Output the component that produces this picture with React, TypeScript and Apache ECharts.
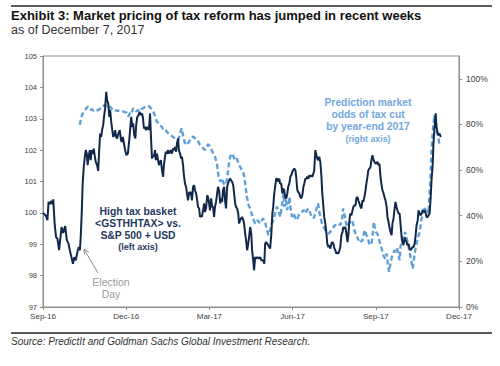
import React, { useEffect, useRef } from "react";
import * as echarts from "echarts";

// x positions are months since the Sep-16 tick
const X_LABELS = ["Sep-16", "Dec-16", "Mar-17", "Jun-17", "Sep-17", "Dec-17"];
const LEFT_TICKS = [97, 98, 99, 100, 101, 102, 103, 104, 105];
const RIGHT_TICKS = [0, 20, 40, 60, 80, 100];

// High tax basket <GSTHHTAX> vs. S&P 500 + USD (left axis)
const BASKET: [number, number][] = [
  [0,100.00],[0.10,99.92],[0.16,99.77],[0.20,100.35],[0.25,100.28],[0.30,100.38],[0.34,100.28],[0.37,100.43],[0.42,99.66],[0.47,99.23],[0.52,99.18],[0.58,98.81],[0.63,99.23],[0.67,99.55],[0.73,99.36],[0.80,99.58],[0.86,99.13],[0.92,99.02],[0.98,98.75],[1.04,98.54],[1.08,98.38],[1.13,98.59],[1.18,98.49],[1.24,98.75],[1.29,98.91],[1.33,98.81],[1.36,99.23],[1.40,100.08],[1.43,100.93],[1.47,101.47],[1.51,101.79],[1.54,102.00],[1.58,101.89],[1.61,101.52],[1.65,101.84],[1.69,102.00],[1.72,101.68],[1.76,102.00],[1.80,101.89],[1.83,102.05],[1.87,101.79],[1.90,101.63],[1.95,101.52],[1.99,101.34],[2.02,101.89],[2.06,102.53],[2.10,102.42],[2.13,102.64],[2.17,102.80],[2.20,103.06],[2.24,103.33],[2.28,103.86],[2.31,103.59],[2.35,103.49],[2.39,103.06],[2.42,103.28],[2.46,102.90],[2.49,102.69],[2.53,102.42],[2.57,102.48],[2.60,102.64],[2.64,102.42],[2.67,102.37],[2.72,102.53],[2.77,102.64],[2.81,102.32],[2.84,102.26],[2.88,102.42],[2.92,102.21],[2.96,102.00],[3.01,101.84],[3.06,101.89],[3.11,102.32],[3.14,102.64],[3.18,103.06],[3.22,102.74],[3.25,102.85],[3.29,102.48],[3.33,102.37],[3.36,102.80],[3.40,103.06],[3.45,103.12],[3.48,103.22],[3.52,103.12],[3.57,103.17],[3.60,103.06],[3.64,102.69],[3.67,102.74],[3.71,102.64],[3.75,102.74],[3.78,102.69],[3.82,102.64],[3.86,103.17],[3.89,102.48],[3.93,101.73],[3.96,101.84],[4.00,101.79],[4.04,102.00],[4.07,101.68],[4.11,101.89],[4.14,101.73],[4.18,101.52],[4.22,101.63],[4.25,101.68],[4.29,101.36],[4.33,101.15],[4.36,101.52],[4.40,101.79],[4.43,101.95],[4.47,101.89],[4.51,102.00],[4.54,101.89],[4.58,101.95],[4.61,102.00],[4.65,101.89],[4.69,102.05],[4.72,102.00],[4.76,102.10],[4.80,101.95],[4.83,102.21],[4.87,102.37],[4.90,102.00],[4.94,101.89],[4.98,101.73],[5.01,101.79],[5.05,101.52],[5.08,101.20],[5.12,100.93],[5.16,100.83],[5.19,100.62],[5.23,100.40],[5.27,100.67],[5.30,100.56],[5.34,100.67],[5.37,100.40],[5.41,100.83],[5.45,100.88],[5.48,100.72],[5.52,100.62],[5.55,100.46],[5.59,100.19],[5.63,100.14],[5.66,99.87],[5.70,99.92],[5.73,99.87],[5.77,100.08],[5.81,100.30],[5.84,100.03],[5.88,100.14],[5.92,100.56],[5.95,100.51],[5.99,100.30],[6.02,100.08],[6.06,100.46],[6.10,100.19],[6.13,100.19],[6.17,99.87],[6.20,100.19],[6.24,100.35],[6.28,100.62],[6.31,100.83],[6.35,100.72],[6.39,100.30],[6.42,100.46],[6.46,100.35],[6.49,100.72],[6.53,100.83],[6.57,100.35],[6.60,100.14],[6.64,100.83],[6.67,100.93],[6.71,101.04],[6.75,101.09],[6.78,101.04],[6.82,100.99],[6.86,100.88],[6.89,100.62],[6.93,100.30],[6.96,100.19],[7.00,100.14],[7.04,99.98],[7.07,99.66],[7.11,99.77],[7.14,99.82],[7.18,99.87],[7.22,99.77],[7.25,99.66],[7.29,99.34],[7.33,99.07],[7.36,98.81],[7.40,99.02],[7.43,99.23],[7.47,99.55],[7.51,99.34],[7.54,98.81],[7.58,98.49],[7.61,98.17],[7.65,98.59],[7.69,98.54],[7.73,98.59],[7.78,98.54],[7.83,98.59],[7.88,98.49],[7.93,98.49],[7.98,98.38],[8.01,99.02],[8.05,99.07],[8.08,99.02],[8.12,98.97],[8.16,98.91],[8.19,98.86],[8.23,99.29],[8.27,99.98],[8.30,100.19],[8.34,100.62],[8.37,100.83],[8.41,101.09],[8.45,101.09],[8.48,100.99],[8.52,101.09],[8.55,100.93],[8.59,100.93],[8.63,100.62],[8.66,100.78],[8.70,100.72],[8.73,100.51],[8.77,100.46],[8.81,100.62],[8.84,100.83],[8.88,100.93],[8.92,101.15],[8.95,101.20],[8.99,101.31],[9.02,101.36],[9.06,101.41],[9.10,101.36],[9.13,101.15],[9.17,100.72],[9.20,100.67],[9.24,100.62],[9.28,100.51],[9.31,100.46],[9.35,100.56],[9.39,100.83],[9.42,100.93],[9.46,101.09],[9.49,101.09],[9.53,101.15],[9.57,101.09],[9.60,101.20],[9.64,101.15],[9.67,101.20],[9.71,101.15],[9.75,101.25],[9.78,101.36],[9.82,102.00],[9.86,101.84],[9.89,101.73],[9.93,101.68],[9.96,101.79],[10.00,101.63],[10.04,101.15],[10.07,100.62],[10.11,100.19],[10.14,99.87],[10.18,99.66],[10.22,99.34],[10.25,99.02],[10.29,98.91],[10.33,98.97],[10.36,98.86],[10.40,99.02],[10.43,99.07],[10.47,99.02],[10.51,98.86],[10.54,98.81],[10.58,98.70],[10.61,98.75],[10.65,98.70],[10.69,98.81],[10.72,98.91],[10.76,99.29],[10.80,99.39],[10.83,99.55],[10.87,99.50],[10.90,99.55],[10.94,99.34],[10.98,99.07],[11.01,99.29],[11.05,99.76],[11.08,99.98],[11.12,99.92],[11.16,100.08],[11.19,100.19],[11.23,100.24],[11.27,100.24],[11.30,100.46],[11.34,100.51],[11.37,100.40],[11.41,100.30],[11.45,100.19],[11.48,100.14],[11.52,100.40],[11.55,100.35],[11.59,100.51],[11.63,100.72],[11.66,100.93],[11.70,101.15],[11.73,101.36],[11.77,101.41],[11.81,101.47],[11.84,101.68],[11.88,101.84],[11.92,101.68],[11.95,101.63],[11.99,101.57],[12.02,101.57],[12.06,101.63],[12.10,101.52],[12.13,101.57],[12.17,101.15],[12.20,100.93],[12.24,100.72],[12.28,100.62],[12.31,100.51],[12.35,100.40],[12.39,100.19],[12.42,99.87],[12.46,99.71],[12.49,99.55],[12.53,99.39],[12.57,99.29],[12.60,99.66],[12.64,99.82],[12.67,100.08],[12.71,100.35],[12.75,100.19],[12.78,100.08],[12.82,99.98],[12.86,99.98],[12.89,99.66],[12.93,99.23],[12.96,99.07],[13.00,98.97],[13.04,99.23],[13.07,99.13],[13.11,99.07],[13.14,98.97],[13.18,99.02],[13.22,98.86],[13.25,98.81],[13.29,98.86],[13.33,98.91],[13.36,98.91],[13.40,99.02],[13.43,99.23],[13.47,99.61],[13.51,99.76],[13.54,100.08],[13.58,99.98],[13.61,99.92],[13.65,99.98],[13.69,100.08],[13.72,100.03],[13.76,100.08],[13.80,99.98],[13.83,99.87],[13.87,99.87],[13.90,99.92],[13.94,99.98],[13.98,100.51],[14.01,101.04],[14.05,101.52],[14.08,102.21],[14.12,102.74],[14.16,103.17],[14.19,102.74],[14.23,102.53],[14.27,102.48],[14.30,102.53],[14.34,102.42]
];

// Prediction market odds of tax cut by year-end 2017, % (right axis)
const ODDS: [number, number][] = [
  [1.33,79.8],[1.36,82.0],[1.41,84.2],[1.47,85.7],[1.54,86.7],[1.61,87.8],[1.66,87.1],[1.71,86.4],[1.76,86.7],[1.81,86.1],[1.87,86.4],[1.93,85.9],[1.99,86.4],[2.05,86.7],[2.11,87.8],[2.17,88.1],[2.23,88.6],[2.29,87.6],[2.35,88.1],[2.41,87.8],[2.47,87.1],[2.53,86.4],[2.59,86.7],[2.65,85.9],[2.71,86.1],[2.77,85.9],[2.83,85.7],[2.89,85.7],[2.95,85.4],[3.01,85.2],[3.07,83.5],[3.11,84.2],[3.16,85.7],[3.20,85.2],[3.25,87.1],[3.31,86.7],[3.37,85.7],[3.43,86.4],[3.49,85.7],[3.55,86.7],[3.61,87.1],[3.67,87.6],[3.73,87.6],[3.80,88.1],[3.86,87.6],[3.92,86.4],[3.98,85.7],[4.04,83.5],[4.10,81.3],[4.16,80.5],[4.22,79.4],[4.28,79.1],[4.34,77.6],[4.40,77.9],[4.46,76.9],[4.52,76.1],[4.58,75.4],[4.64,75.0],[4.70,74.4],[4.76,73.9],[4.82,73.5],[4.88,73.2],[4.94,76.1],[5.00,78.3],[5.06,74.7],[5.12,71.7],[5.16,71.0],[5.20,71.7],[5.25,72.0],[5.30,73.2],[5.36,74.4],[5.42,74.7],[5.48,73.9],[5.54,73.5],[5.60,72.5],[5.66,71.0],[5.72,70.3],[5.78,69.5],[5.84,68.8],[5.90,70.3],[5.96,71.3],[6.02,70.3],[6.08,68.8],[6.14,67.3],[6.20,65.9],[6.27,63.0],[6.33,57.1],[6.39,54.9],[6.45,56.4],[6.51,54.2],[6.57,53.4],[6.63,55.6],[6.69,61.5],[6.75,65.9],[6.81,67.3],[6.87,65.9],[6.93,64.4],[6.99,65.2],[7.05,62.2],[7.11,61.5],[7.17,60.0],[7.23,58.6],[7.29,54.2],[7.35,48.3],[7.41,44.7],[7.47,43.2],[7.57,38.8],[7.65,36.6],[7.73,38.1],[7.83,36.6],[7.93,38.8],[8.01,37.3],[8.07,33.7],[8.13,31.5],[8.19,33.7],[8.25,36.6],[8.31,38.1],[8.37,41.0],[8.43,43.9],[8.49,42.5],[8.55,39.5],[8.61,43.9],[8.67,49.8],[8.71,43.9],[8.75,48.3],[8.80,42.5],[8.86,45.4],[8.89,48.3],[8.92,43.9],[8.98,39.5],[9.04,41.0],[9.10,38.8],[9.16,38.1],[9.22,40.3],[9.28,41.0],[9.34,41.7],[9.40,42.5],[9.46,41.0],[9.52,42.5],[9.58,43.2],[9.64,41.0],[9.70,39.5],[9.76,38.8],[9.82,41.0],[9.88,43.9],[9.92,45.4],[9.95,42.5],[10.00,39.5],[10.06,36.6],[10.12,35.1],[10.18,33.7],[10.24,32.9],[10.30,32.2],[10.36,32.9],[10.42,34.4],[10.48,35.1],[10.54,35.9],[10.60,36.6],[10.66,36.6],[10.72,35.9],[10.78,38.1],[10.82,43.2],[10.86,41.0],[10.89,39.5],[10.93,36.6],[10.96,35.1],[11.02,36.6],[11.08,37.3],[11.14,38.1],[11.18,36.6],[11.23,33.7],[11.28,31.5],[11.33,30.7],[11.37,29.3],[11.42,30.0],[11.47,28.6],[11.52,29.3],[11.57,32.2],[11.61,33.7],[11.66,31.5],[11.71,30.7],[11.76,27.8],[11.81,27.1],[11.86,28.6],[11.89,32.2],[11.93,37.3],[11.96,35.1],[12.00,32.9],[12.05,32.2],[12.10,30.7],[12.14,28.6],[12.19,26.4],[12.24,24.2],[12.29,22.0],[12.34,21.2],[12.39,23.4],[12.43,19.0],[12.48,15.4],[12.53,19.0],[12.58,22.0],[12.63,23.4],[12.67,24.9],[12.72,24.2],[12.77,25.6],[12.82,22.7],[12.86,20.5],[12.89,26.4],[12.93,28.6],[12.96,30.7],[13.01,30.7],[13.05,32.9],[13.08,31.5],[13.13,29.3],[13.18,26.4],[13.23,23.4],[13.28,20.5],[13.33,16.8],[13.37,20.5],[13.42,24.9],[13.47,27.8],[13.52,30.7],[13.57,32.2],[13.61,35.1],[13.66,39.5],[13.71,42.5],[13.76,43.9],[13.81,41.0],[13.86,42.5],[13.90,41.0],[13.94,49.8],[13.98,58.6],[14.01,68.8],[14.05,76.1],[14.08,80.5],[14.12,84.2],[14.16,80.5],[14.19,77.6],[14.23,75.4],[14.27,73.2],[14.30,70.3]
];

const FONT = "'Liberation Sans', Arial, Helvetica, sans-serif";
const NAVY = "#12284a";
const LIGHT = "#5f9fd8";

export default function App() {
  const ref = useRef<HTMLDivElement>(null);
  useEffect(() => {
    if (!ref.current) return;
    const chart = echarts.init(ref.current, null, { renderer: "svg" });
    const txt = (text: string, x: number, y: number, size: number, fill: string, opts: any = {}) => ({
      type: "text",
      silent: true,
      style: {
        text,
        x,
        y,
        fill,
        font: `${opts.italic ? "italic " : ""}${opts.bold ? "bold " : ""}${size}px ${FONT}`,
        textAlign: opts.align || "left",
        textVerticalAlign: "middle",
      },
    });
    chart.setOption({
      animation: false,
      textStyle: { fontFamily: FONT },
      grid: { left: 43, right: 41, top: 56, bottom: 59, show: true, borderColor: "#8c8c8c", borderWidth: 1 },
      xAxis: {
        type: "value",
        min: 0,
        max: 15,
        interval: 3,
        axisLine: { show: true, lineStyle: { color: "#8c8c8c" } },
        axisTick: { show: true, length: 3, lineStyle: { color: "#8c8c8c" } },
        splitLine: { show: false },
        axisLabel: {
          fontSize: 8,
          color: "#404040",
          margin: 5,
          formatter: (v: number) => X_LABELS[Math.round(v / 3)] ?? "",
        },
      },
      yAxis: [
        {
          type: "value",
          min: LEFT_TICKS[0],
          max: LEFT_TICKS[LEFT_TICKS.length - 1],
          interval: 1,
          axisLine: { show: true, lineStyle: { color: "#8c8c8c" } },
          axisTick: { show: true, length: 3, lineStyle: { color: "#8c8c8c" } },
          splitLine: { show: false },
          axisLabel: { fontSize: 7.5, color: "#404040", margin: 6 },
        },
        {
          type: "value",
          min: 0,
          max: 110,
          interval: 20,
          position: "right",
          axisLine: { show: true, lineStyle: { color: "#8c8c8c" } },
          axisTick: { show: true, length: 3, lineStyle: { color: "#8c8c8c" }, customValues: RIGHT_TICKS },
          splitLine: { show: false },
          axisLabel: {
            fontSize: 8.5,
            color: "#404040",
            margin: 7,
            customValues: RIGHT_TICKS,
            formatter: (v: number) => `${v}%`,
          },
        },
      ],
      series: [
        {
          type: "line",
          yAxisIndex: 1,
          data: ODDS,
          showSymbol: false,
          symbol: "none",
          lineStyle: { color: LIGHT, width: 2.4, type: [5, 3] },
          z: 2,
        },
        {
          type: "line",
          yAxisIndex: 0,
          data: BASKET,
          showSymbol: false,
          symbol: "none",
          lineStyle: { color: NAVY, width: 2 },
          z: 3,
        },
      ],
      graphic: [
        { type: "line", silent: true, shape: { x1: 11, y1: 6, x2: 492, y2: 6 }, style: { stroke: "#5a5a5a", lineWidth: 2 } },
        txt("Exhibit 3: Market pricing of tax reform has jumped in recent weeks", 11, 15, 13, "#111", { bold: true }),
        txt("as of December 7, 2017", 11, 29.5, 12.5, "#333"),
        { type: "line", silent: true, shape: { x1: 11, y1: 333, x2: 492, y2: 333 }, style: { stroke: "#222", lineWidth: 1.5 } },
        txt("Source: PredictIt and Goldman Sachs Global Investment Research.", 11, 341.5, 10, "#333", { italic: true }),
        txt("High tax basket", 138, 211, 10.4, "#1f3a60", { bold: true, align: "center" }),
        txt("<GSTHHTAX> vs.", 138, 223, 10.4, "#1f3a60", { bold: true, align: "center" }),
        txt("S&P 500 + USD", 138, 235, 10.4, "#1f3a60", { bold: true, align: "center" }),
        txt("(left axis)", 138, 247, 9, "#1f3a60", { bold: true, align: "center" }),
        txt("Prediction market", 368, 102.5, 10.3, "#6fa8dc", { bold: true, align: "center" }),
        txt("odds of tax cut", 368, 114.5, 10.3, "#6fa8dc", { bold: true, align: "center" }),
        txt("by year-end 2017", 368, 126.5, 10.3, "#6fa8dc", { bold: true, align: "center" }),
        txt("(right axis)", 368, 138.5, 8.8, "#6fa8dc", { bold: true, align: "center" }),
        txt("Election", 111, 282, 10.5, "#9a9a9a", { align: "center" }),
        txt("Day", 111, 294, 10.5, "#9a9a9a", { align: "center" }),
        { type: "line", silent: true, shape: { x1: 98, y1: 273, x2: 84.5, y2: 250 }, style: { stroke: "#8a8a8a", lineWidth: 1 } },
        { type: "polyline", silent: true, shape: { points: [[88.8, 252.2], [84, 249], [84.4, 254.6]] }, style: { stroke: "#8a8a8a", lineWidth: 1, fill: "none" } },
      ],
    });
    return () => chart.dispose();
  }, []);
  return <div ref={ref} style={{ position: "fixed", left: 0, top: 0, width: 500, height: 366, background: "#fff" }} />;
}
